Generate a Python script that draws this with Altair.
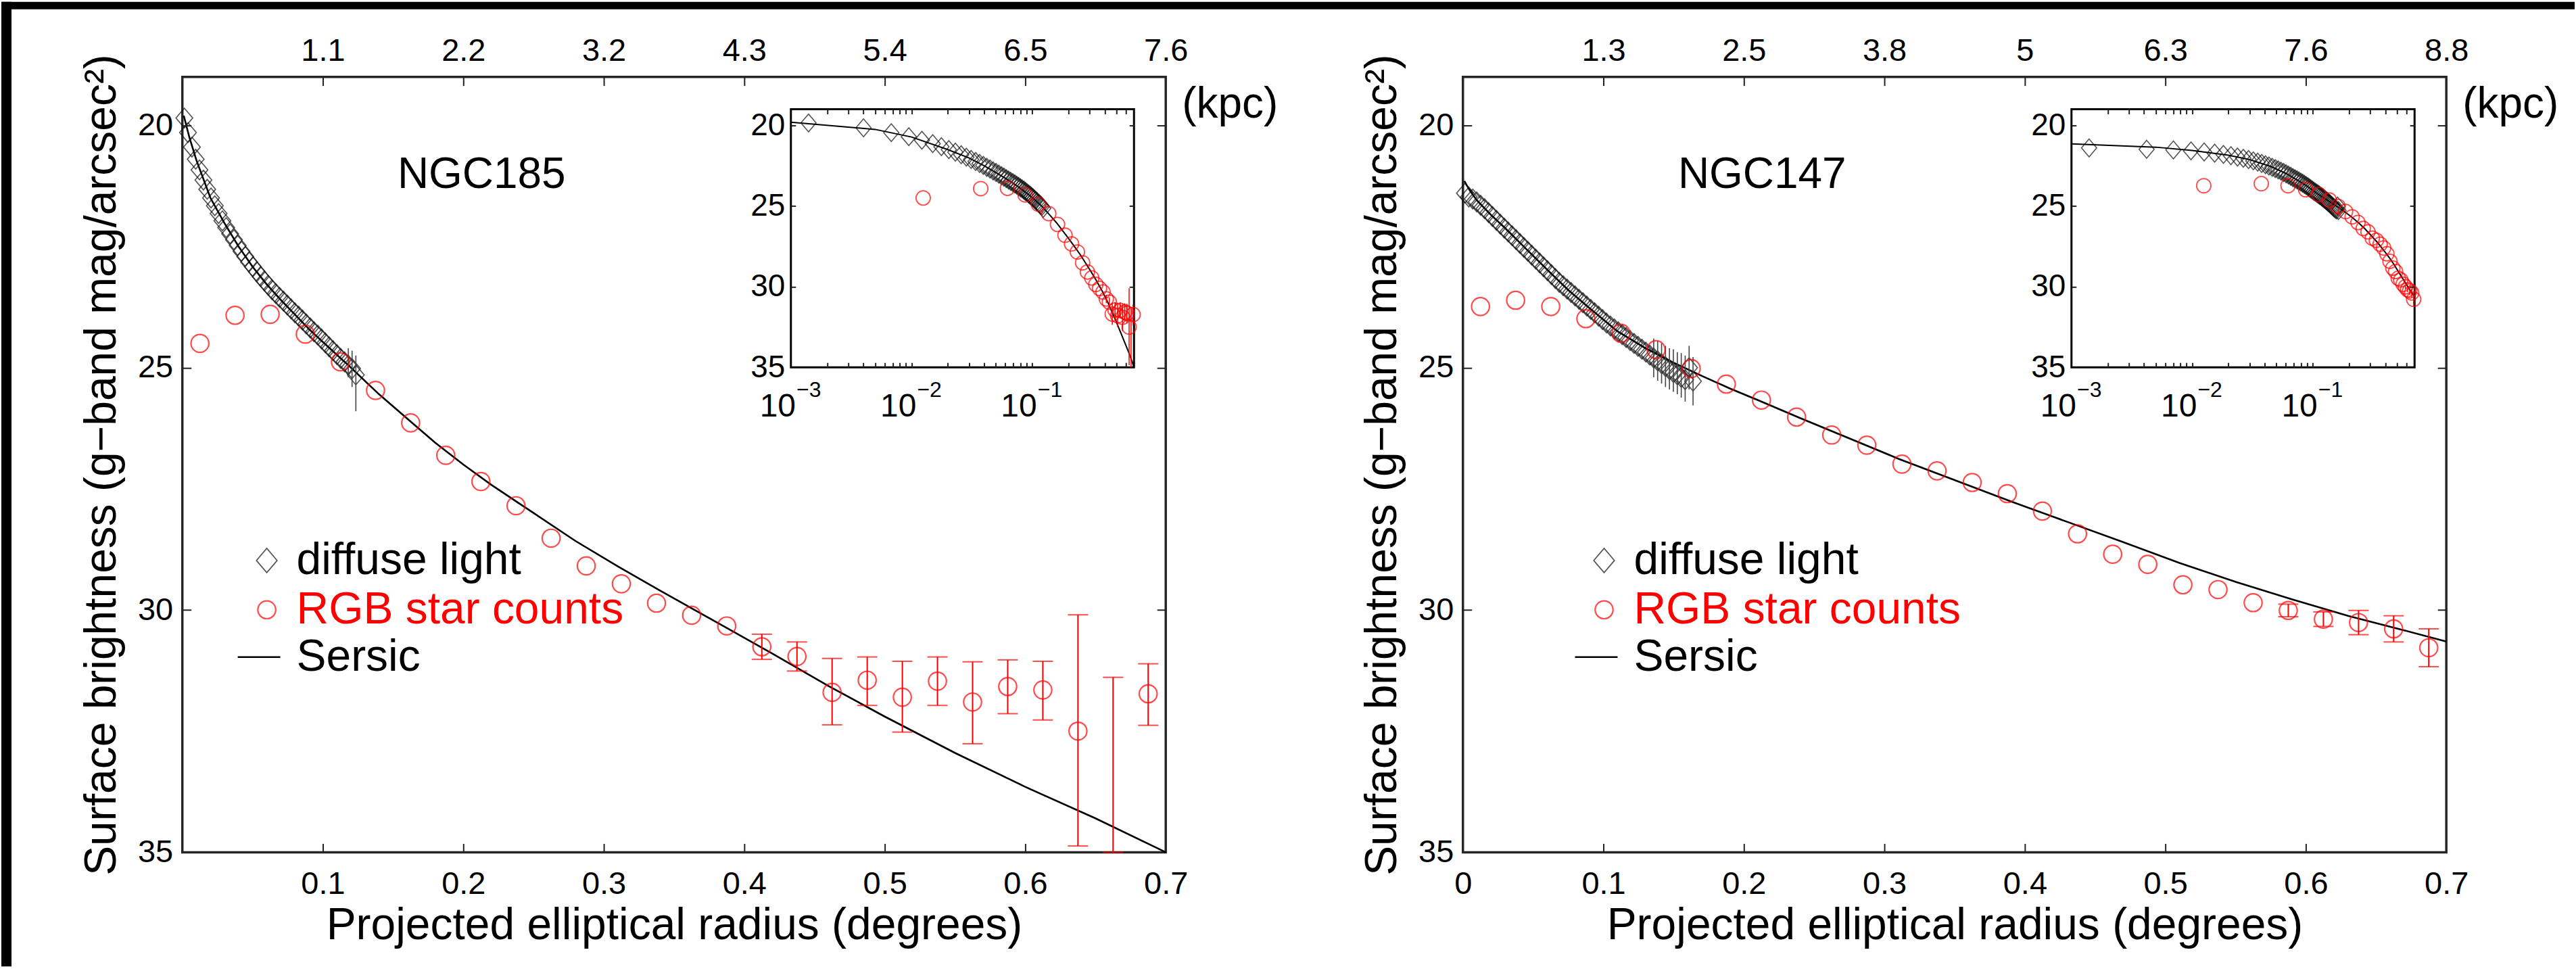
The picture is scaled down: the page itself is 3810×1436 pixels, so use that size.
import altair as alt
import pandas as pd

FONT = "Liberation Sans"

# ---------------- page / layout constants ----------------
PAGE_W, PAGE_H = 3810, 1436
W, H = 1456, 1148
ORIGIN_X, ORIGIN_Y = 268, 111
PANEL_GAP = 440
IX0, IX1, IY0, IY1 = 901, 1409, 48, 430

# ---------------- texts ----------------
X_TITLE = "Projected elliptical radius (degrees)"
Y_TITLE = "Surface brightness (g\u2212band mag/arcsec\u00b2)"
KPC_UNIT = "(kpc)"
LEGEND_LABELS = ["diffuse light", "RGB star counts", "Sersic"]
LEGEND_COLORS = ["black", "red", "black"]

# ---------------- tick values / labels ----------------
MAIN_X_TICKS = [0.1, 0.2, 0.3, 0.4, 0.5, 0.6]
KPC_TICKS = [0.1, 0.2, 0.3, 0.4, 0.5, 0.6, 0.7]
MAIN_Y_LABELS = [20, 25, 30, 35]
MAIN_Y_TICKS = [20, 25, 30]
INSET_X_LABEL_VALUES = [0.001, 0.01, 0.1]
INSET_X_BASE = "10"
INSET_X_EXPONENTS = ["\u22123", "\u22122", "\u22121"]
INSET_X_TICKS = [0.002, 0.003, 0.004, 0.005, 0.006, 0.007, 0.008, 0.009, 0.01,
                 0.02, 0.03, 0.04, 0.05, 0.06, 0.07, 0.08, 0.09, 0.1,
                 0.2, 0.3, 0.4, 0.5, 0.6]

# ================= NGC185 =================
n185_name = "NGC185"
n185_xlabels = [0.1, 0.2, 0.3, 0.4, 0.5, 0.6, 0.7]
n185_kpc = ["1.1", "2.2", "3.2", "4.3", "5.4", "6.5", "7.6"]
n185_diffuse_r = [0.0014, 0.0040, 0.0068, 0.0095, 0.0122, 0.0150, 0.0177, 0.0204, 0.0231, 0.0258,
                  0.0285, 0.0312, 0.0340, 0.0367, 0.0394, 0.0421, 0.0448, 0.0475, 0.0502, 0.0530,
                  0.0557, 0.0584, 0.0611, 0.0638, 0.0665, 0.0692, 0.0720, 0.0747, 0.0774, 0.0801,
                  0.0828, 0.0855, 0.0882, 0.0910, 0.0937, 0.0964, 0.0991, 0.1018, 0.1045, 0.1072,
                  0.1100, 0.1127, 0.1154, 0.1181, 0.1208, 0.1235]
n185_diffuse_mu = [19.85, 20.15, 20.45, 20.70, 20.92, 21.13, 21.32, 21.50, 21.66, 21.82,
                   21.97, 22.11, 22.24, 22.36, 22.48, 22.60, 22.71, 22.82, 22.92, 23.02,
                   23.12, 23.21, 23.30, 23.39, 23.47, 23.55, 23.63, 23.71, 23.79, 23.87,
                   23.94, 24.02, 24.10, 24.18, 24.26, 24.33, 24.41, 24.49, 24.57, 24.65,
                   24.73, 24.81, 24.88, 24.95, 25.02, 25.15]
n185_diffuse_err_r = [0.1181, 0.1208, 0.1235]
n185_diffuse_err_lo = [24.60, 24.65, 24.75]
n185_diffuse_err_hi = [25.20, 25.40, 25.90]
n185_rgb_r = [0.0125, 0.0375, 0.0625, 0.0875, 0.1125, 0.1375, 0.1625, 0.1875, 0.2125, 0.2375,
              0.2625, 0.2875, 0.3125, 0.3375, 0.3625, 0.3875, 0.4125, 0.4375, 0.4625, 0.4875,
              0.5125, 0.5375, 0.5625, 0.5875, 0.6125, 0.6375, 0.6625, 0.6875]
n185_rgb_mu = [24.50, 23.92, 23.90, 24.31, 24.88, 25.47, 26.14, 26.81, 27.35, 27.85,
               28.52, 29.09, 29.46, 29.86, 30.11, 30.33, 30.76, 30.96, 31.70, 31.45,
               31.80, 31.47, 31.90, 31.58, 31.65, 32.50, None, 31.73]
n185_rgb_err_r = [0.4125, 0.4375, 0.4625, 0.4875, 0.5125, 0.5375, 0.5625, 0.5875, 0.6125,
                  0.6375, 0.6625, 0.6875]
n185_rgb_err_lo = [30.50, 30.66, 31.00, 30.97, 31.06, 30.97, 31.07, 31.03, 31.06, 30.10, 31.39, 31.11]
n185_rgb_err_hi = [31.02, 31.26, 32.37, 31.97, 32.52, 31.97, 32.76, 32.14, 32.27, 34.87, 35.00, 32.38]
n185_sersic_r = [0.001, 0.005, 0.01, 0.02, 0.03, 0.04, 0.05, 0.06, 0.07, 0.08, 0.09, 0.10, 0.12,
                 0.14, 0.16, 0.18, 0.20, 0.22, 0.25, 0.28, 0.31, 0.34, 0.38, 0.42, 0.46, 0.50,
                 0.55, 0.60, 0.65, 0.70]
n185_sersic_mu = [19.80, 20.25, 20.72, 21.50, 22.02, 22.50, 22.92, 23.28, 23.60, 23.90, 24.20,
                  24.47, 25.00, 25.55, 26.05, 26.55, 27.00, 27.42, 28.00, 28.58, 29.10, 29.60,
                  30.25, 30.90, 31.57, 32.20, 32.95, 33.65, 34.30, 35.00]

# ================= NGC147 =================
n147_name = "NGC147"
n147_xlabels = [0.0, 0.1, 0.2, 0.3, 0.4, 0.5, 0.6, 0.7]
n147_kpc = ["1.3", "2.5", "3.8", "5", "6.3", "7.6", "8.8"]
n147_diffuse_r = [0.0014, 0.0042, 0.0070, 0.0098, 0.0126, 0.0154, 0.0182, 0.0210, 0.0238, 0.0266,
                  0.0294, 0.0322, 0.0350, 0.0378, 0.0406, 0.0434, 0.0462, 0.0490, 0.0518, 0.0546,
                  0.0574, 0.0602, 0.0630, 0.0658, 0.0686, 0.0714, 0.0742, 0.0770, 0.0798, 0.0826,
                  0.0854, 0.0882, 0.0910, 0.0938, 0.0966, 0.0994, 0.1022, 0.1050, 0.1078, 0.1106,
                  0.1134, 0.1162, 0.1190, 0.1218, 0.1246, 0.1274, 0.1302, 0.1330, 0.1358, 0.1386,
                  0.1414, 0.1442, 0.1470, 0.1498, 0.1526, 0.1554, 0.1582, 0.1610, 0.1638]
n147_diffuse_mu = [21.40, 21.48, 21.52, 21.58, 21.65, 21.72, 21.80, 21.88, 21.96, 22.04,
                   22.12, 22.20, 22.28, 22.36, 22.44, 22.52, 22.60, 22.68, 22.76, 22.84,
                   22.92, 23.00, 23.08, 23.16, 23.24, 23.31, 23.38, 23.45, 23.52, 23.59,
                   23.66, 23.73, 23.80, 23.87, 23.94, 24.01, 24.08, 24.14, 24.20, 24.26,
                   24.32, 24.38, 24.44, 24.50, 24.56, 24.62, 24.68, 24.74, 24.80, 24.86,
                   24.92, 24.98, 25.04, 25.10, 25.15, 25.20, 25.25, 25.00, 25.28]
n147_diffuse_err_r = [0.1358, 0.1386, 0.1414, 0.1442, 0.1470, 0.1498, 0.1526, 0.1554, 0.1582,
                      0.1610, 0.1638]
n147_diffuse_err_lo = [24.40, 24.45, 24.50, 24.55, 24.60, 24.62, 24.68, 24.70, 24.75, 24.55, 24.78]
n147_diffuse_err_hi = [25.20, 25.27, 25.33, 25.40, 25.45, 25.50, 25.55, 25.62, 25.70, 25.45, 25.78]
n147_rgb_r = [0.0125, 0.0375, 0.0625, 0.0875, 0.1125, 0.1375, 0.1625, 0.1875, 0.2125, 0.2375,
              0.2625, 0.2875, 0.3125, 0.3375, 0.3625, 0.3875, 0.4125, 0.4375, 0.4625, 0.4875,
              0.5125, 0.5375, 0.5625, 0.5875, 0.6125, 0.6375, 0.6625, 0.6875]
n147_rgb_mu = [23.74, 23.61, 23.74, 23.99, 24.29, 24.63, 25.02, 25.34, 25.67, 26.02,
               26.39, 26.60, 26.99, 27.13, 27.37, 27.60, 27.96, 28.43, 28.85, 29.06,
               29.48, 29.58, 29.85, 30.01, 30.19, 30.26, 30.39, 30.78]
n147_rgb_err_r = [0.5875, 0.6125, 0.6375, 0.6625, 0.6875]
n147_rgb_err_lo = [29.88, 30.04, 30.01, 30.12, 30.39]
n147_rgb_err_hi = [30.14, 30.34, 30.51, 30.66, 31.17]
n147_sersic_r = [0.001, 0.005, 0.01, 0.02, 0.03, 0.045, 0.06, 0.075, 0.09, 0.11, 0.13, 0.15,
                 0.17, 0.19, 0.21, 0.24, 0.27, 0.31, 0.35, 0.39, 0.43, 0.47, 0.51, 0.55, 0.59,
                 0.63, 0.67, 0.70]
n147_sersic_mu = [21.15, 21.35, 21.55, 21.85, 22.12, 22.55, 22.98, 23.40, 23.77, 24.25, 24.60,
                  24.90, 25.17, 25.43, 25.67, 26.04, 26.40, 26.88, 27.32, 27.76, 28.18, 28.60,
                  29.03, 29.42, 29.78, 30.12, 30.42, 30.65]

DIAMOND = "M0,-1L0.85,0L0,1L-0.85,0Z"
TICK_COLOR = "#222222"
DIAMOND_COLOR = "#111111"


def one_row():
    return pd.DataFrame({"k": [1]})


def px_rect(x, x2, y, y2, **mk):
    return alt.Chart(one_row()).mark_rect(**mk).encode(
        x=alt.value(x), x2=alt.value(x2), y=alt.value(y), y2=alt.value(y2))


def px_text(s, x, y, **mk):
    return alt.Chart(pd.DataFrame({"t": [s]})).mark_text(font=FONT, **mk).encode(
        text="t:N", x=alt.value(x), y=alt.value(y))


def tick_axis(orient, offset, values, size=13):
    return alt.Axis(orient=orient, offset=offset, values=values, labels=False, ticks=True,
                    tickSize=size, tickWidth=2, tickColor=TICK_COLOR, domain=False,
                    grid=False, title=None, zindex=1)


def panel(name, d_r, d_mu, de_r, de_lo, de_hi, g_r, g_mu, ge_r, ge_lo, ge_hi,
          s_r, s_mu, kpc, xlabels, leg_dx, strips):
    diff = pd.DataFrame({"r": d_r, "mu": d_mu})
    derr = pd.DataFrame({"r": de_r, "lo": de_lo, "hi": de_hi})
    rgb = pd.DataFrame({"r": g_r, "mu": g_mu}).dropna()
    gerr = pd.DataFrame({"r": ge_r, "lo": ge_lo, "hi": ge_hi})
    ser = pd.DataFrame({"r": s_r, "mu": s_mu})

    mx = alt.Scale(domain=[0, 0.7], nice=False, zero=False)
    my = alt.Scale(domain=[19, 35], reverse=True, nice=False, zero=False)

    kpc_expr = "[" + ",".join("'%s'" % s for s in kpc) + "][round(datum.value*10)-1]"

    ax_bottom = alt.Axis(orient="bottom", values=xlabels, format=".1~f", ticks=False,
                         domain=False, grid=False, labelFlush=False, labelPadding=24,
                         labelFontSize=47, title=X_TITLE, titleX=W / 2, titleY=128,
                         titleAlign="center", titleBaseline="alphabetic", titleFontSize=66,
                         zindex=1)
    ax_left = alt.Axis(orient="left", values=MAIN_Y_LABELS, ticks=False, domain=False,
                       grid=False, labelPadding=14, labelFontSize=47, title=Y_TITLE,
                       titleAngle=270, titleX=-99, titleY=H / 2, titleAlign="center",
                       titleBaseline="alphabetic", titleFontSize=66, zindex=1)
    ax_top = alt.Axis(orient="top", values=KPC_TICKS, labelExpr=kpc_expr, ticks=False,
                      domain=False, grid=False, labelFlush=False, labelPadding=14,
                      labelFontSize=47, title=None, zindex=1)

    main = []
    if strips:
        main.append(px_rect(-ORIGIN_X, -ORIGIN_X + 15, -ORIGIN_Y, PAGE_H - ORIGIN_Y - 8,
                            color="black"))
        main.append(px_rect(-ORIGIN_X, PAGE_W - ORIGIN_X, -ORIGIN_Y, -ORIGIN_Y + 11,
                            color="black"))

    main.append(alt.Chart(ser).mark_line(color="black", strokeWidth=2.6).encode(
        x=alt.X("r:Q", scale=mx, axis=ax_bottom),
        y=alt.Y("mu:Q", scale=my, axis=ax_left)))
    main.append(alt.Chart(diff).mark_point(shape=DIAMOND, size=850, filled=False,
                                           color=DIAMOND_COLOR, strokeWidth=1.7).encode(
        x=alt.X("r:Q", scale=mx, axis=ax_top),
        y=alt.Y("mu:Q", scale=my, axis=tick_axis("right", -W, MAIN_Y_TICKS))))
    main.append(alt.Chart(derr).mark_rule(color="#444444", strokeWidth=1.6).encode(
        x=alt.X("r:Q", scale=mx, axis=None),
        y=alt.Y("lo:Q", scale=my, axis=None), y2="hi:Q"))
    main.append(alt.Chart(rgb).mark_point(shape="circle", size=700, filled=False,
                                          color="red", strokeWidth=2.2).encode(
        x=alt.X("r:Q", scale=mx, axis=tick_axis("top", -H, MAIN_X_TICKS)),
        y=alt.Y("mu:Q", scale=my, axis=tick_axis("left", -W, MAIN_Y_TICKS))))
    main.append(alt.Chart(gerr).mark_rule(color="red", strokeWidth=2).encode(
        x=alt.X("r:Q", scale=mx, axis=tick_axis("bottom", -H, MAIN_X_TICKS)),
        y=alt.Y("lo:Q", scale=my, axis=None), y2="hi:Q"))
    for col in ["lo", "hi"]:
        main.append(alt.Chart(gerr).mark_tick(orient="horizontal", size=30, thickness=2,
                                              color="red").encode(
            x=alt.X("r:Q", scale=mx, axis=None),
            y=alt.Y(col + ":Q", scale=my, axis=None)))

    # annotations
    main.append(px_text(name, 443, 146, fontSize=64, align="center", baseline="middle",
                        color="black"))
    main.append(px_text(KPC_UNIT, 1480, 41, fontSize=64, align="left", baseline="middle",
                        color="black"))

    # legend
    lx = 125 + leg_dx
    ly = [716, 789, 859]
    main.append(alt.Chart(one_row()).mark_point(shape=DIAMOND, size=1300, filled=False,
                                                color=DIAMOND_COLOR, strokeWidth=1.7).encode(
        x=alt.value(lx), y=alt.value(ly[0])))
    main.append(alt.Chart(one_row()).mark_point(shape="circle", size=700, filled=False,
                                                color="red", strokeWidth=2.2).encode(
        x=alt.value(lx), y=alt.value(ly[1])))
    main.append(alt.Chart(one_row()).mark_rule(color="black", strokeWidth=2.6).encode(
        x=alt.value(lx - 43), x2=alt.value(lx + 20), y=alt.value(ly[2])))
    for lab, colr, yy in zip(LEGEND_LABELS, LEGEND_COLORS, ly):
        main.append(px_text(lab, lx + 44, yy, fontSize=66, align="left", baseline="middle",
                            color=colr))

    main_layer = alt.layer(*main).resolve_axis(x="independent", y="independent")

    # ---------------- inset ----------------
    ix = alt.Scale(type="log", domain=[0.001, 0.7], range=[IX0, IX1], nice=False)
    iy = alt.Scale(domain=[19, 35], range=[IY0, IY1], nice=False, zero=False)
    exp_expr = "[" + ",".join("'%s'" % s for s in INSET_X_EXPONENTS) + \
               "][round(log(datum.value)/LN10)+3]"
    ax_ib = alt.Axis(orient="bottom", offset=IY1 - H, values=INSET_X_LABEL_VALUES,
                     labelExpr="'%s'" % INSET_X_BASE, ticks=False, domain=False, grid=False,
                     labelFlush=False, labelPadding=34, labelOffset=-20, labelFontSize=48,
                     title=None, labelOverlap=False, zindex=1)
    ax_ie = alt.Axis(orient="bottom", offset=IY1 - H, values=INSET_X_LABEL_VALUES,
                     labelExpr=exp_expr, ticks=False, domain=False, grid=False,
                     labelFlush=False, labelPadding=18, labelOffset=26, labelFontSize=32,
                     title=None, labelOverlap=False, zindex=1)
    ax_il = alt.Axis(orient="left", offset=-IX0, values=MAIN_Y_LABELS, ticks=False,
                     domain=False, grid=False, labelPadding=9, labelFontSize=46,
                     title=None, zindex=1)

    inset = [px_rect(IX0, IX1, IY0, IY1, fill="white", stroke="black", strokeWidth=3)]
    inset.append(alt.Chart(ser).mark_line(color="black", strokeWidth=2).encode(
        x=alt.X("r:Q", scale=ix, axis=ax_ib),
        y=alt.Y("mu:Q", scale=iy, axis=ax_il)))
    inset.append(alt.Chart(diff).mark_point(shape=DIAMOND, size=700, filled=False,
                                            color=DIAMOND_COLOR, strokeWidth=1.6).encode(
        x=alt.X("r:Q", scale=ix, axis=tick_axis("bottom", IY0 - H, INSET_X_TICKS, 7)),
        y=alt.Y("mu:Q", scale=iy, axis=tick_axis("right", IX0 - W, MAIN_Y_TICKS, 7))))
    inset.append(alt.Chart(rgb).mark_point(shape="circle", size=450, filled=False,
                                           color="red", strokeWidth=1.8).encode(
        x=alt.X("r:Q", scale=ix, axis=tick_axis("top", -IY1, INSET_X_TICKS, 7)),
        y=alt.Y("mu:Q", scale=iy, axis=tick_axis("left", -IX1, MAIN_Y_TICKS, 7))))
    inset.append(alt.Chart(gerr).mark_rule(color="red", strokeWidth=1.5).encode(
        x=alt.X("r:Q", scale=ix, axis=ax_ie),
        y=alt.Y("lo:Q", scale=iy, axis=None), y2="hi:Q"))
    inset_layer = alt.layer(*inset).resolve_axis(x="independent", y="independent")

    return alt.layer(main_layer, inset_layer).resolve_scale(
        x="independent", y="independent").resolve_axis(
        x="independent", y="independent").properties(width=W, height=H)


left = panel(n185_name, n185_diffuse_r, n185_diffuse_mu, n185_diffuse_err_r, n185_diffuse_err_lo,
             n185_diffuse_err_hi, n185_rgb_r, n185_rgb_mu, n185_rgb_err_r, n185_rgb_err_lo,
             n185_rgb_err_hi, n185_sersic_r, n185_sersic_mu, n185_kpc, n185_xlabels, 0, True)
right = panel(n147_name, n147_diffuse_r, n147_diffuse_mu, n147_diffuse_err_r, n147_diffuse_err_lo,
              n147_diffuse_err_hi, n147_rgb_r, n147_rgb_mu, n147_rgb_err_r, n147_rgb_err_lo,
              n147_rgb_err_hi, n147_sersic_r, n147_sersic_mu, n147_kpc, n147_xlabels, 84, False)

chart = alt.hconcat(left, right, spacing=PANEL_GAP).properties(
    bounds="flush", padding=0, background="white"
).configure_view(stroke="#262626", strokeWidth=3.5).configure_axis(
    labelFont=FONT, titleFont=FONT, labelColor="black", titleColor="black",
    titleFontWeight="normal", grid=False, domain=False
)

chart.save("out.html", embed_options={"renderer": "svg", "actions": False})
